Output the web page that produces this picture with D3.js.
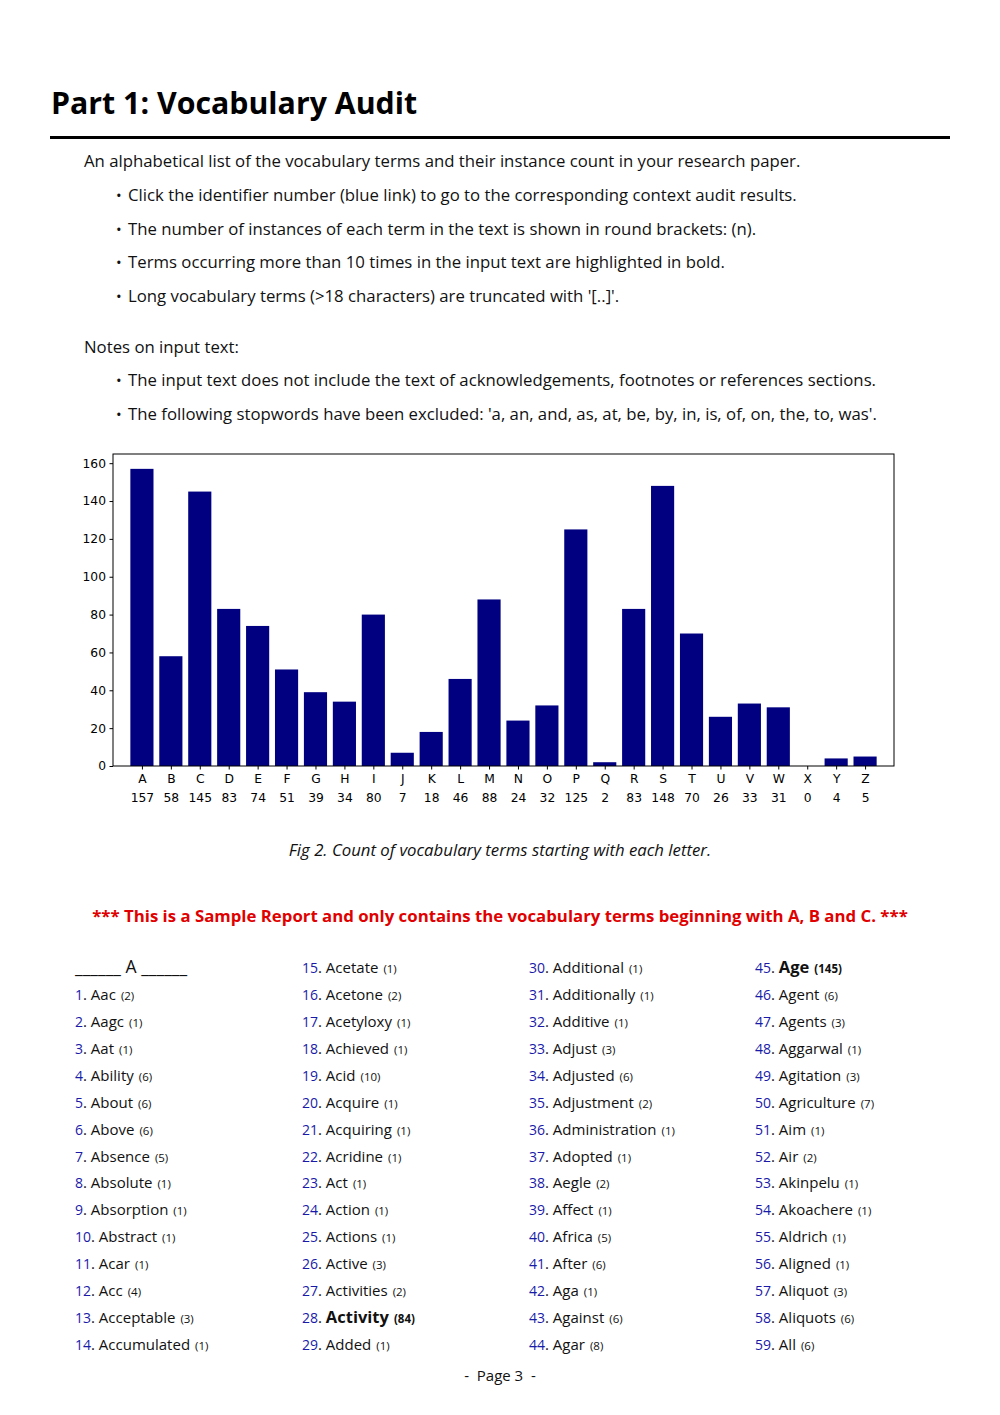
<!DOCTYPE html>
<html>
<head>
<meta charset="utf-8">
<script src="https://cdn.jsdelivr.net/npm/d3@7"></script>
<style>
  body { margin: 0; background: white; }
  svg { display: block; }
  .page { font-family: "Open Sans", sans-serif; fill: #111; }
  .chart text { font-family: "DejaVu Sans", sans-serif; font-size: 12px; fill: #000; }
</style>
</head>
<body>
<svg id="page" width="1000" height="1415"></svg>
<script>
// counts per starting letter
const letters = "ABCDEFGHIJKLMNOPQRSTUVWXYZ".split("");
const letterCounts = [157, 58, 145, 83, 74, 51, 39, 34, 80, 7, 18, 46, 88, 24, 32, 125, 2, 83, 148, 70, 26, 33, 31, 0, 4, 5];
const yTicks = [0, 20, 40, 60, 80, 100, 120, 140, 160];

// vocabulary terms (A only, sample report)
const terms = ["Aac", "Aagc", "Aat", "Ability", "About", "Above", "Absence", "Absolute", "Absorption", "Abstract",
  "Acar", "Acc", "Acceptable", "Accumulated", "Acetate", "Acetone", "Acetyloxy", "Achieved", "Acid", "Acquire",
  "Acquiring", "Acridine", "Act", "Action", "Actions", "Active", "Activities", "Activity", "Added", "Additional",
  "Additionally", "Additive", "Adjust", "Adjusted", "Adjustment", "Administration", "Adopted", "Aegle", "Affect", "Africa",
  "After", "Aga", "Against", "Agar", "Age", "Agent", "Agents", "Aggarwal", "Agitation", "Agriculture",
  "Aim", "Air", "Akinpelu", "Akoachere", "Aldrich", "Aligned", "Aliquot", "Aliquots", "All"];
const termCounts = [2, 1, 1, 6, 6, 6, 5, 1, 1, 1,
  1, 4, 3, 1, 1, 2, 1, 1, 10, 1,
  1, 1, 1, 1, 1, 3, 2, 84, 1, 1,
  1, 1, 3, 6, 2, 1, 1, 2, 1, 5,
  6, 1, 6, 8, 145, 6, 3, 1, 3, 7,
  1, 2, 1, 1, 1, 1, 3, 6, 6];

const bullets1 = [
  "Click the identifier number (blue link) to go to the corresponding context audit results.",
  "The number of instances of each term in the text is shown in round brackets: (n).",
  "Terms occurring more than 10 times in the input text are highlighted in bold.",
  "Long vocabulary terms (>18 characters) are truncated with '[..]'."
];
const bullets2 = [
  "The input text does not include the text of acknowledgements, footnotes or references sections.",
  "The following stopwords have been excluded: 'a, an, and, as, at, be, by, in, is, of, on, the, to, was'."
];

const svg = d3.select("#page");
const page = svg.append("g").attr("class", "page");
const bodySize = "16.75px";

// heading
page.append("text").attr("x", 51).attr("y", 114)
    .style("font-size", "30.3px").style("font-weight", "bold").style("fill", "#000")
    .text("Part 1: Vocabulary Audit");
page.append("rect").attr("x", 50).attr("y", 136).attr("width", 900).attr("height", 3).attr("fill", "#000");

// intro text
page.append("text").attr("x", 84).attr("y", 167).style("font-size", bodySize)
    .text("An alphabetical list of the vocabulary terms and their instance count in your research paper.");

function bulletList(lines, y0) {
    const g = page.append("g");
    lines.forEach((t, i) => {
        const yy = y0 + i * 33.6;
        g.append("text").attr("x", 116).attr("y", yy).style("font-size", "15px").text("\u2022");
        g.append("text").attr("x", 128).attr("y", yy).style("font-size", bodySize).text(t);
    });
}
bulletList(bullets1, 201);
page.append("text").attr("x", 84).attr("y", 353).style("font-size", bodySize).text("Notes on input text:");
bulletList(bullets2, 386);

// ---- bar chart ----
const chart = svg.append("g").attr("class", "chart");
const plotLeft = 113, plotRight = 894, plotTop = 454, plotBottom = 766;

let x = d3.scaleLinear().domain([-1, 26]).range([plotLeft, plotRight]);
let y = d3.scaleLinear().domain([0, 157 * 1.05]).range([plotBottom, plotTop]);
const bw = x(0.8) - x(0);

chart.selectAll("rect.bar")
    .data(letterCounts)
    .enter()
    .append("rect")
    .attr("class", "bar")
    .attr("x", (d, i) => x(i) - bw / 2)
    .attr("y", d => y(d))
    .attr("width", bw)
    .attr("height", d => y(0) - y(d))
    .attr("fill", "#000080");

// y axis
chart.append("g")
    .attr("transform", "translate(" + plotLeft + ",0)")
    .call(d3.axisLeft(y).tickValues(yTicks).tickSize(3.5).tickPadding(3.5))
    .call(g => g.select(".domain").remove())
    .call(g => g.selectAll("text").style("font-size", "12.3px"));

// x axis with letter + count
const xAxis = chart.append("g")
    .attr("transform", "translate(0," + plotBottom + ")")
    .call(d3.axisBottom(x).tickValues(d3.range(letters.length)).tickSize(3.5).tickFormat(""))
    .call(g => g.select(".domain").remove());

xAxis.selectAll(".tick").each(function (d) {
    const t = d3.select(this).append("text").attr("fill", "#000").attr("text-anchor", "middle")
        .style("font-size", "12.3px");
    t.append("tspan").attr("x", 0).attr("y", 17).text(letters[d]);
    t.append("tspan").attr("x", 0).attr("y", 36).text(letterCounts[d]);
});

// frame
chart.append("rect").attr("x", plotLeft).attr("y", plotTop)
    .attr("width", plotRight - plotLeft).attr("height", plotBottom - plotTop)
    .attr("fill", "none").attr("stroke", "#000").attr("stroke-width", 1);

// caption
page.append("text").attr("x", 500).attr("y", 856).attr("text-anchor", "middle")
    .style("font-size", bodySize).style("font-style", "italic")
    .text("Fig 2. Count of vocabulary terms starting with each letter.");

page.append("text").attr("x", 500).attr("y", 922).attr("text-anchor", "middle")
    .style("font-size", "16.8px").style("font-weight", "bold").style("fill", "#e00000")
    .text("*** This is a Sample Report and only contains the vocabulary terms beginning with A, B and C. ***");

// ---- term list ----
const colX = [75, 302, 529, 755];
const rowY = d3.scaleLinear().domain([0, 14]).range([973, 1350]);

page.append("text").attr("x", colX[0]).attr("y", rowY(0)).style("font-size", "17.5px")
    .text("______ A ______");

terms.forEach((term, i) => {
    const slot = i + 1;
    const col = Math.floor(slot / 15), row = slot % 15;
    const bold = termCounts[i] > 10;
    const t = page.append("text").attr("x", colX[col]).attr("y", rowY(row)).style("font-size", "15px");
    t.append("tspan").style("fill", "#1a1aa8").style("font-size", "14px").text(i + 1);
    t.append("tspan").text(". ");
    t.append("tspan").style("font-weight", bold ? "bold" : "normal")
        .style("font-size", bold ? "16.5px" : "15px").text(term);
    t.append("tspan").attr("dx", 5).style("font-size", "11.5px").style("font-weight", bold ? "bold" : "normal")
        .text("(" + termCounts[i] + ")");
});

// footer
page.append("text").attr("x", 500).attr("y", 1381).attr("text-anchor", "middle")
    .style("font-size", "15px").attr("xml:space", "preserve").text("-  Page 3  -");
</script>
</body>
</html>
